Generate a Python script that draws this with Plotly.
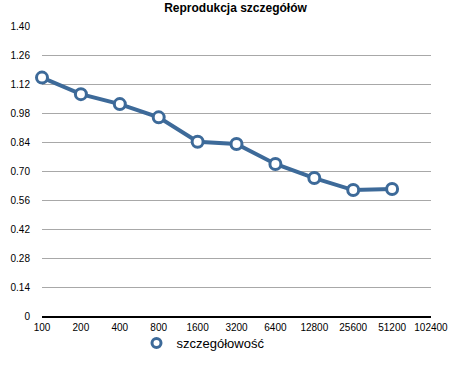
import plotly.graph_objects as go

categories = ["100", "200", "400", "800", "1600", "3200", "6400", "12800", "25600", "51200", "102400"]
point_categories = ["100", "200", "400", "800", "1600", "3200", "6400", "12800", "25600", "51200"]
values = [1.151, 1.071, 1.023, 0.959, 0.841, 0.830, 0.734, 0.666, 0.608, 0.613]
y_tickvals = [0, 0.14, 0.28, 0.42, 0.56, 0.70, 0.84, 0.98, 1.12, 1.26, 1.40]
y_ticktext = ["0", "0.14", "0.28", "0.42", "0.56", "0.70", "0.84", "0.98", "1.12", "1.26", "1.40"]
series_name = "szczegółowość"

color = "#3d6a99"
font = "Liberation Sans, Arial, sans-serif"

fig = go.Figure()
fig.add_trace(go.Scatter(
    x=point_categories, y=values, mode="lines+markers",
    name=series_name, showlegend=False,
    line=dict(color=color, width=4),
    marker=dict(symbol="circle", size=11, color="white", line=dict(color=color, width=3)),
    cliponaxis=False,
))
# legend entry (marker only, as in the reference)
fig.add_trace(go.Scatter(
    x=[None], y=[None], mode="markers", name=series_name, showlegend=True,
    marker=dict(symbol="circle", size=9, color="white", line=dict(color=color, width=3)),
))

fig.update_layout(
    width=455, height=368,
    margin=dict(l=42, r=24, t=26, b=52, autoexpand=False),
    paper_bgcolor="white", plot_bgcolor="white",
    font=dict(family=font, size=10, color="black"),
    title=dict(text="<b>Reprodukcja szczegółów</b>", x=235.5/455, xanchor="center",
               y=1 - 8/368, yanchor="middle", yref="container",
               font=dict(size=12, color="black", family=font)),
    showlegend=True,
    legend=dict(orientation="h", xref="container", yref="container", x=0.30, xanchor="left",
                y=1 - 343/368, yanchor="middle", font=dict(size=13, family=font),
                bgcolor="rgba(0,0,0,0)"),
    xaxis=dict(type="category", categoryorder="array", categoryarray=categories,
               range=[0, 10], showgrid=False, showline=True, linecolor="black",
               linewidth=1.5, ticks="outside", ticklen=1, tickcolor="rgba(0,0,0,0)",
               tickangle=0, automargin=False,
               tickfont=dict(size=10, family=font), zeroline=False),
    yaxis=dict(range=[0, 1.40], tickvals=y_tickvals, ticktext=y_ticktext,
               showgrid=True, gridcolor="#a8a8a8", gridwidth=1, showline=False,
               zeroline=False, ticks="outside", ticklen=9, tickcolor="rgba(0,0,0,0)",
               automargin=False, tickfont=dict(size=10, family=font)),
)

fig.write_html("out.html", config={"displayModeBar": False},
               post_script="document.body.style.margin='0';")
